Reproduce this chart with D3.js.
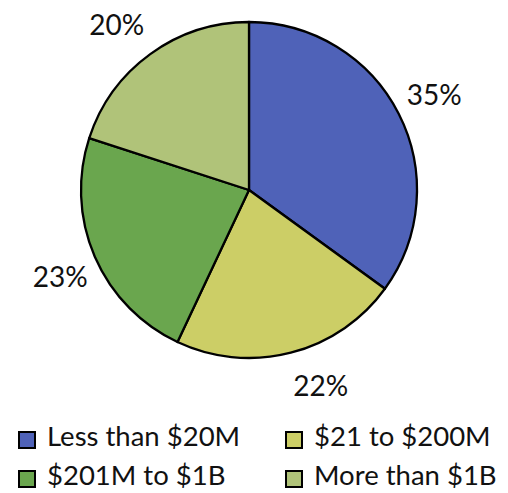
<!DOCTYPE html>
<html>
<head>
<meta charset="utf-8">
<script src="https://cdn.jsdelivr.net/npm/d3@7"></script>
<style>
    body { margin: 0; background: #fff; }
    svg text { font-family: Lato, "Open Sans", sans-serif; fill: #111; }
</style>
</head>
<body>
<div id="chart"></div>
<script>
// slice data, clockwise from 12 o'clock
const categories = ['Less than $20M', '$21 to $200M', '$201M to $1B', 'More than $1B'];
const shares = [35, 22, 23, 20];
const colors = ['#4F62B8', '#CCCE66', '#6AA64E', '#B0C379'];

const width = 508;
const height = 493;
const center = { x: 249, y: 190 };
const radius = 168;

const svg = d3.select('#chart')
    .append('svg')
    .attr('width', width)
    .attr('height', height);

const pie = d3.pie().sort(null).value(d => d.value);
const arcs = pie(categories.map((c, i) => ({ name: c, value: shares[i], color: colors[i] })));

const arc = d3.arc().innerRadius(0).outerRadius(radius);
const labelArc = d3.arc().innerRadius(208).outerRadius(208);

const g = svg.append('g')
    .attr('transform', `translate(${center.x},${center.y})`);

g.selectAll('path')
    .data(arcs)
    .enter()
    .append('path')
    .attr('d', arc)
    .attr('fill', d => d.data.color)
    .attr('stroke', '#000')
    .attr('stroke-width', 2.3)
    .attr('stroke-linejoin', 'round');

// small nudges so labels sit where the original placed them
const labelNudge = [[0, -2], [20, -6], [2, 3], [-10, 2]];

g.selectAll('text.pct')
    .data(arcs)
    .enter()
    .append('text')
    .attr('class', 'pct')
    .attr('x', (d, i) => labelArc.centroid(d)[0] + labelNudge[i][0])
    .attr('y', (d, i) => labelArc.centroid(d)[1] + labelNudge[i][1])
    .attr('text-anchor', 'middle')
    .attr('dominant-baseline', 'central')
    .style('font-size', '28px')
    .text(d => d.data.value + '%');

// legend, two columns
const legend = svg.append('g');
const cols = [18, 285];
const rows = [440, 479];

const item = legend.selectAll('g')
    .data(arcs)
    .enter()
    .append('g')
    .attr('transform', (d, i) => `translate(${cols[i % 2]},${rows[Math.floor(i / 2)]})`);

item.append('rect')
    .attr('x', 1)
    .attr('y', -8)
    .attr('width', 16)
    .attr('height', 16)
    .attr('fill', d => d.data.color)
    .attr('stroke', '#000')
    .attr('stroke-width', 2);

item.append('text')
    .attr('x', 29)
    .attr('y', 6)
    .style('font-size', '27.5px')
    .text(d => d.data.name);
</script>
</body>
</html>
